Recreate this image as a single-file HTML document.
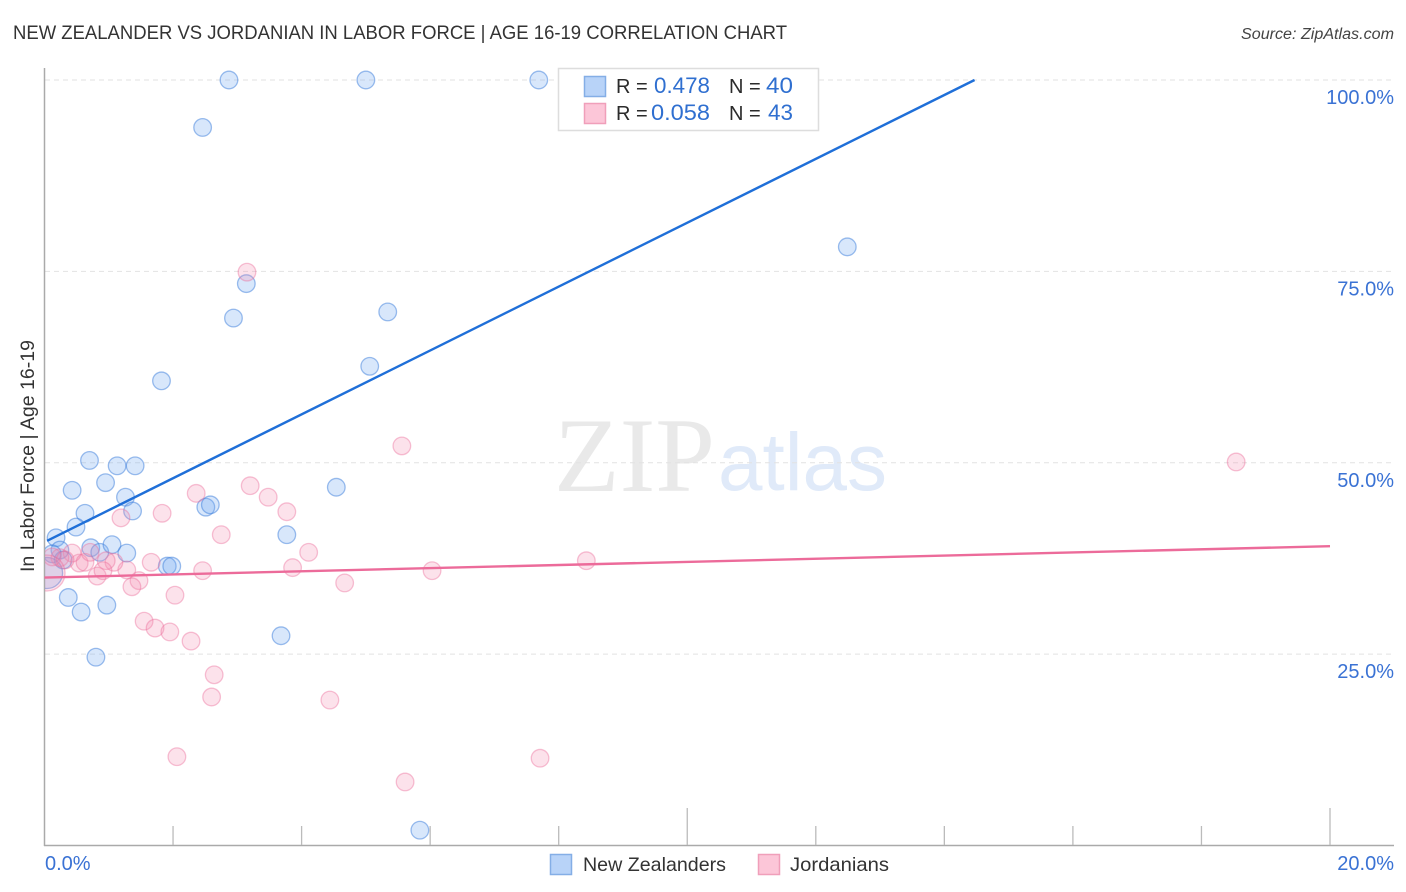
<!DOCTYPE html>
<html lang="en">
<head>
<meta charset="utf-8">
<title>New Zealander vs Jordanian in Labor Force | Age 16-19 Correlation Chart</title>
<style>
  html, body { margin: 0; padding: 0; background: #fff; }
  body { width: 1406px; height: 892px; overflow: hidden; }
  svg { display: block; font-family: "Liberation Sans", "DejaVu Sans", sans-serif; }
</style>
</head>
<body>
<svg id="chart" xmlns="http://www.w3.org/2000/svg" width="1406" height="892" viewBox="0 0 1406 892">
  <defs>
    <clipPath id="plot-clip"><rect x="45" y="60" width="1350" height="785"></rect></clipPath>
  </defs>
  <rect x="0" y="0" width="1406" height="892" fill="#ffffff"></rect>
  <text x="13" y="39" font-size="19.5" fill="#333333" textLength="774" lengthAdjust="spacingAndGlyphs">NEW ZEALANDER VS JORDANIAN IN LABOR FORCE | AGE 16-19 CORRELATION CHART</text>
  <text x="1394" y="39" font-size="15.5" font-style="italic" fill="#444444" text-anchor="end" textLength="153" lengthAdjust="spacingAndGlyphs">Source: ZipAtlas.com</text>
  <text x="554" y="491" font-family="'Liberation Serif', serif" font-size="106" fill="#e9e9e9" textLength="161" lengthAdjust="spacingAndGlyphs">ZIP</text>
  <text x="718" y="490" font-size="82" fill="#e0eaf9" textLength="169" lengthAdjust="spacingAndGlyphs">atlas</text>
  <g id="grid"></g>
  <g id="axes"></g>
  <g id="points" clip-path="url(#plot-clip)"></g>
  <g id="trends"></g>
  <g id="labels"></g>
  <text transform="translate(34 572) rotate(-90)" font-size="19.5" fill="#333333" textLength="232" lengthAdjust="spacingAndGlyphs">In Labor Force | Age 16-19</text>

  <g>
    <rect x="558.5" y="68.5" width="260" height="62" fill="#ffffff" stroke="#dddddd" stroke-width="1.5"></rect>
    <rect x="584.5" y="76.5" width="21" height="20" fill="#b8d3f8" stroke="#84aee6" stroke-width="1.5"></rect>
    <rect x="584.5" y="103.5" width="21" height="20" fill="#fcc6d8" stroke="#f09fba" stroke-width="1.5"></rect>
    <text x="616" y="93" font-size="20" fill="#2b2b2b">R =</text>
    <text x="710" y="93" font-size="22" fill="#2f6fd0" text-anchor="end" textLength="56" lengthAdjust="spacingAndGlyphs">0.478</text>
    <text x="729" y="93" font-size="20" fill="#2b2b2b">N =</text>
    <text x="793" y="93" font-size="22" fill="#2f6fd0" text-anchor="end" textLength="27" lengthAdjust="spacingAndGlyphs">40</text>
    <text x="616" y="120" font-size="20" fill="#2b2b2b">R =</text>
    <text x="710" y="120" font-size="22" fill="#2f6fd0" text-anchor="end" textLength="59" lengthAdjust="spacingAndGlyphs">0.058</text>
    <text x="729" y="120" font-size="20" fill="#2b2b2b">N =</text>
    <text x="793" y="120" font-size="22" fill="#2f6fd0" text-anchor="end" textLength="25" lengthAdjust="spacingAndGlyphs">43</text>
  </g>

  <g>
    <rect x="550.5" y="854.5" width="21" height="20" fill="#b8d3f8" stroke="#84aee6" stroke-width="1.5"></rect>
    <text x="583" y="871" font-size="19.5" fill="#333333" textLength="143" lengthAdjust="spacingAndGlyphs">New Zealanders</text>
    <rect x="758.5" y="854.5" width="21" height="20" fill="#fcc6d8" stroke="#f09fba" stroke-width="1.5"></rect>
    <text x="790" y="871" font-size="19.5" fill="#333333" textLength="99" lengthAdjust="spacingAndGlyphs">Jordanians</text>
  </g>
</svg>
<script>
const blueX = [2.87,5.0,7.69,2.46,12.49,3.14,2.94,5.34,5.06,1.82,0.70,1.13,1.41,0.95,0.43,4.54,1.26,0.63,1.37,0.49,2.51,2.58,3.77,0.18,0.24,0.29,0.12,0.72,0.86,1.05,1.28,1.91,1.98,0.37,0.57,0.97,0.80,3.68,5.84,0.04];
const blueY = [100,100,100,93.8,78.2,73.4,68.9,69.7,62.6,60.7,50.3,49.6,49.6,47.4,46.4,46.8,45.5,43.4,43.7,41.6,44.2,44.5,40.6,40.2,38.6,37.3,38.1,38.9,38.3,39.3,38.2,36.5,36.5,32.4,30.5,31.4,24.6,27.4,2.0,35.6];
const pinkX = [3.15,5.56,18.54,3.2,3.48,2.36,1.83,1.19,3.77,2.75,4.11,1.66,2.46,3.86,4.67,6.03,8.43,2.03,1.55,1.72,1.95,2.28,2.64,2.6,4.44,2.06,7.71,5.61,1.47,1.36,1.28,1.08,0.96,0.82,0.91,0.54,0.43,0.63,0.71,0.24,0.12,0.32,0.04];
const pinkY = [74.9,52.2,50.1,47.0,45.5,46.0,43.4,42.8,43.6,40.6,38.3,37.0,35.9,36.3,34.3,35.9,37.2,32.7,29.3,28.4,27.9,26.7,22.3,19.4,19.0,11.6,11.4,8.3,34.6,33.8,36.0,37.0,37.2,35.2,35.9,36.9,38.2,37.0,38.3,37.6,37.7,37.3,35.6];
const blueTrendX = [0.04,14.47];
const blueTrendY = [39.8,100];
const pinkTrendX = [0,20];
const pinkTrendY = [35.0,39.1];
const yTicks = [100,75,50,25];
const yTickLabels = ["100.0%","75.0%","50.0%","25.0%"];
const xTicks = [2,4,6,8,10,12,14,16,18,20];
const xMajorTicks = [10,20];
const xEndValues = [0,20];
const xEndLabels = ["0.0%","20.0%"];

const NS = "http://www.w3.org/2000/svg";
function sx(v) { return 44.5 + v * 64.275; }
function sy(v) { return 845.5 - v * 7.655; }
function make(tag, parent, attrs) {
  const el = document.createElementNS(NS, tag);
  for (const k in attrs) el.setAttribute(k, attrs[k]);
  document.getElementById(parent).appendChild(el);
  return el;
}

yTicks.forEach(function (t, i) {
  const line = make("line", "grid", { x1: 45, x2: 1394, y1: sy(t), y2: sy(t), stroke: "#e2e2e2", "stroke-width": 1, "stroke-dasharray": "5 4" });
  
  
  const label = make("text", "labels", { x: 1394, y: sy(t) + 24, "font-size": 20, fill: "#3a72d4", "text-anchor": "end" });
  label.textContent = yTickLabels[i];
  
  
});

const yAxis = make("line", "axes", { x1: 44.5, x2: 44.5, y1: 68, y2: 846, stroke: "#aaaaaa", "stroke-width": 1.5 });


const xAxis = make("line", "axes", { x1: 44, x2: 1394, y1: 845.5, y2: 845.5, stroke: "#aaaaaa", "stroke-width": 1.5 });



xTicks.forEach(function (t) {
  const top = xMajorTicks.indexOf(t) >= 0 ? 808 : 826;
  const tick = make("line", "axes", { x1: sx(t), x2: sx(t), y1: top, y2: 845, stroke: "#bbbbbb", "stroke-width": 1.3 });
  
  
});

xEndValues.forEach(function (v, i) {
  const label = make("text", "labels", { x: i === 0 ? 45 : 1394, y: 870, "font-size": 20, fill: "#3a72d4", "text-anchor": i === 0 ? "start" : "end" });
  label.textContent = xEndLabels[i];
  
  
});

blueX.forEach(function (v, i) {
  const r = i === blueX.length - 1 ? 15.5 : 8.8;
  const c = make("circle", "points", { cx: sx(v), cy: sy(blueY[i]), r: r, fill: "rgba(110,165,240,0.27)", stroke: "rgba(60,125,220,0.5)", "stroke-width": 1.3 });
  
  
});

pinkX.forEach(function (v, i) {
  const r = i === pinkX.length - 1 ? 18 : 8.8;
  const c = make("circle", "points", { cx: sx(v), cy: sy(pinkY[i]), r: r, fill: "rgba(245,140,175,0.25)", stroke: "rgba(235,110,155,0.42)", "stroke-width": 1.3 });
  
  
});

const blueTrend = make("line", "trends", { x1: sx(blueTrendX[0]), y1: sy(blueTrendY[0]), x2: sx(blueTrendX[1]), y2: sy(blueTrendY[1]), stroke: "#1f6fd8", "stroke-width": 2.4 });


const pinkTrend = make("line", "trends", { x1: sx(pinkTrendX[0]), y1: sy(pinkTrendY[0]), x2: sx(pinkTrendX[1]), y2: sy(pinkTrendY[1]), stroke: "#ec6b9a", "stroke-width": 2.4 });


</script>
</body>
</html>
